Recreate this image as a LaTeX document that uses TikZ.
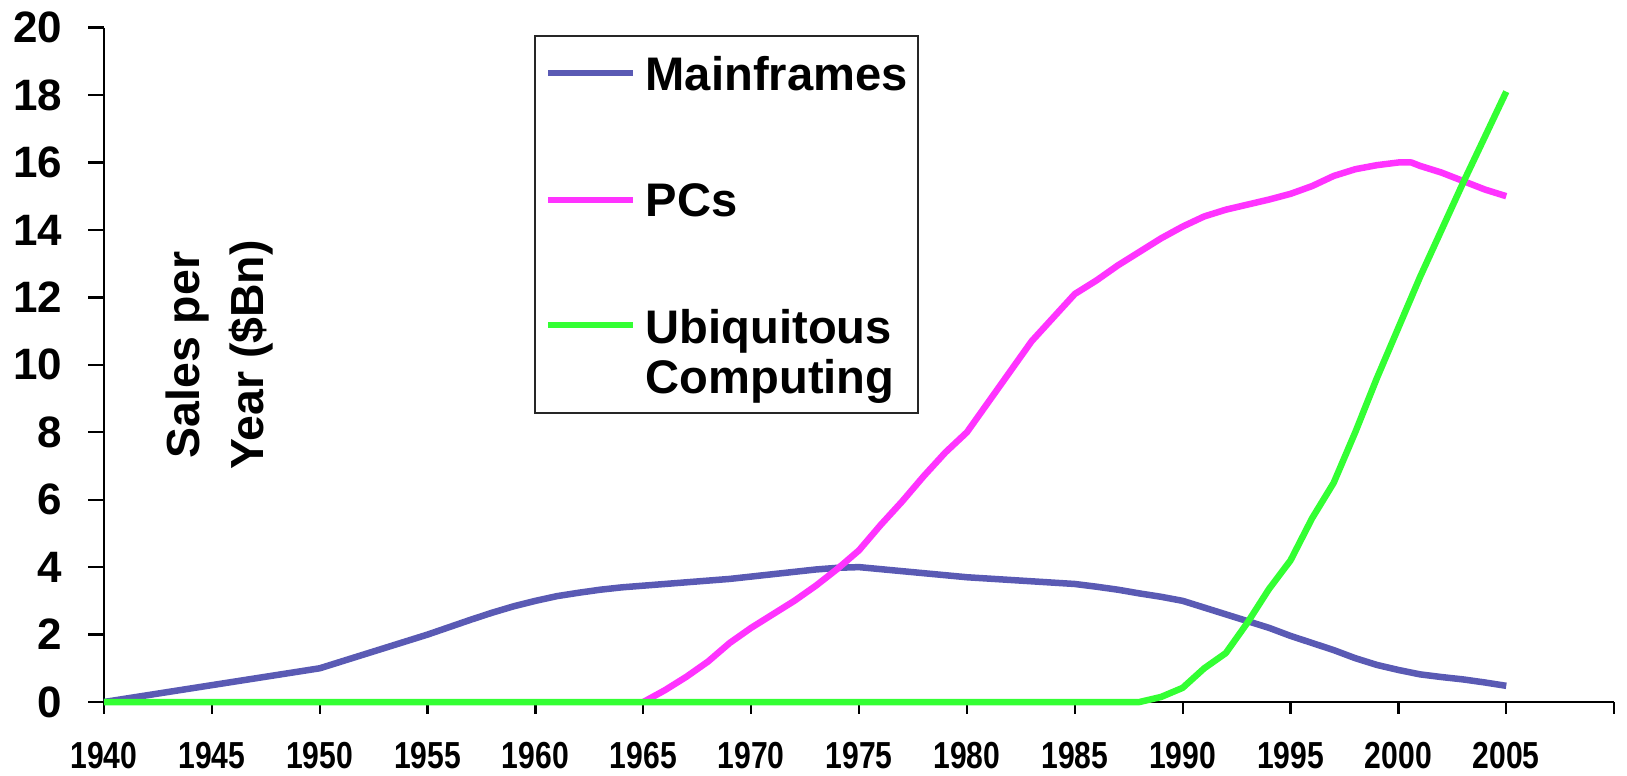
\documentclass[tikz,border=0pt]{standalone}
\usepackage{fontspec}
\setmainfont{Liberation Sans}
\newfontfamily\narrowfont[FakeStretch=0.8]{Liberation Sans}
\usetikzlibrary{positioning}
\definecolor{chMain}{HTML}{5A5AB4}
\definecolor{chPC}{HTML}{FF33FF}
\definecolor{chUbi}{HTML}{33FF33}
\tikzset{
  axisline/.style={line width=0.65pt, black},
  tickline/.style={line width=0.65pt, black},
  series/.style={line width=1.85pt, line join=round},
  mainline/.style={series, chMain},
  pcline/.style={series, chPC},
  ubiline/.style={series, chUbi},
  ylab/.style={font=\fontsize{12.5}{14}\selectfont\bfseries, anchor=east, inner sep=0pt},
  xlab/.style={font=\narrowfont\fontsize{10.7}{12}\selectfont\bfseries, anchor=north, inner sep=0pt},
  legendbox/.style={draw=black!85, line width=0.6pt, inner sep=0pt},
  legendtext/.style={font=\fontsize{13.4}{14.2}\selectfont\bfseries, anchor=base west, inner sep=0pt, align=left},
  axistitle/.style={font=\fontsize{13.2}{18.2}\selectfont\bfseries, align=center, rotate=90, inner sep=0pt}
}

\begin{document}
\begin{tikzpicture}[x=0.01cm, y=0.01cm]
  \useasboundingbox (0,0) rectangle (1627,775);
  % axis title
  \node[axistitle] (ytitle) at (219,420) {Sales per\\Year (\$Bn)};
  \begin{scope}[shift={(104,73)}, x=0.2156cm, y=0.337cm]
    \coordinate (o) at (0,0);
    \coordinate (xend) at (70,0);
    \coordinate (yend) at (0,20);
    \draw[axisline] (yend) -- (o) -- (xend);
    \foreach \v in {0,2,...,20} {
      \coordinate (yt\v) at (0,\v);
      \draw[tickline] (yt\v) -- ++(-0.16cm,0);
      \node[ylab] (yl\v) at ([xshift=-0.41cm]yt\v) {\v};
    }
    \foreach \k in {0,...,14} {
      \pgfmathtruncatemacro{\yr}{1940+5*\k}
      \coordinate (xt\k) at (5*\k,0);
      \draw[tickline] (xt\k) -- ++(0,-0.12cm);
      \ifnum\k<14 \node[xlab] (xl\k) at ([yshift=-0.39cm]xt\k) {\yr}; \fi
    }
    % series
    \draw[mainline] plot coordinates {(0,0) (1,0.1) (2,0.2) (3,0.3) (4,0.4) (5,0.5)
      (6,0.6) (7,0.7) (8,0.8) (9,0.9) (10,1.0) (11,1.2) (12,1.4) (13,1.6) (14,1.8)
      (15,2.0) (16,2.22) (17,2.44) (18,2.65) (19,2.84) (20,3.0) (21,3.14) (22,3.24)
      (23,3.33) (24,3.4) (25,3.45) (26,3.5) (27,3.55) (28,3.6) (29,3.65) (30,3.72)
      (31,3.79) (32,3.86) (33,3.93) (34,3.98) (35,4.0) (36,3.94) (37,3.88) (38,3.82)
      (39,3.76) (40,3.7) (41,3.66) (42,3.62) (43,3.58) (44,3.54) (45,3.5) (46,3.42)
      (47,3.33) (48,3.22) (49,3.12) (50,3.0) (51,2.8) (52,2.6) (53,2.4) (54,2.2)
      (55,1.96) (56,1.75) (57,1.54) (58,1.3) (59,1.1) (60,0.95) (61,0.82) (62,0.74)
      (63,0.67) (64,0.58) (65,0.48)};
    \draw[pcline] plot coordinates {(25,0) (26,0.35) (27,0.75) (28,1.2) (29,1.75)
      (30,2.2) (31,2.6) (32,3.0) (33,3.45) (34,3.95) (35,4.5) (36,5.25) (37,5.95)
      (38,6.7) (39,7.4) (40,8.0) (41,8.9) (42,9.8) (43,10.7) (44,11.4) (45,12.1)
      (46,12.5) (47,12.95) (48,13.35) (49,13.75) (50,14.1) (51,14.4) (52,14.6)
      (53,14.75) (54,14.9) (55,15.07) (56,15.3) (57,15.6) (58,15.8) (59,15.92)
      (60,16.0) (60.6,16.0) (61,15.9) (62,15.7) (63,15.45) (64,15.2) (65,15.0)};
    \draw[ubiline] plot coordinates {(0,0) (48,0) (49,0.15) (50,0.42) (51,1.0)
      (52,1.45) (53,2.35) (54,3.35) (55,4.2) (56,5.45) (57,6.5) (58,8.0) (59,9.6)
      (60,11.1) (61,12.6) (62,14.0) (63,15.4) (64,16.75) (65,18.1)};
  \end{scope}
  % legend
  \node[legendbox, anchor=north west, minimum width=3.83cm, minimum height=3.77cm] (legend) at (534,740) {};
  \draw[mainline] (548,702) -- (633,702);
  \draw[pcline] (548,575) -- (633,575);
  \draw[ubiline] (548,450) -- (633,450);
  \node[legendtext] (lgMain) at (645,684) {Mainframes};
  \node[legendtext] (lgPC) at (645,558) {PCs};
  \node[legendtext] (lgUbi) at (645,382) {Ubiquitous\\Computing};
\end{tikzpicture}
\end{document}
